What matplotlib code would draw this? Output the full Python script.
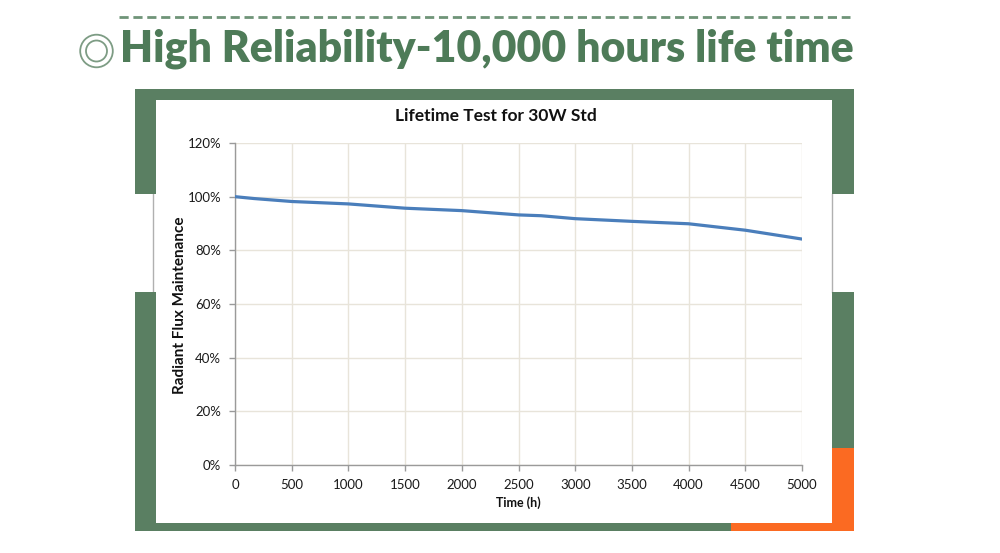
import matplotlib
matplotlib.use("Agg")
import matplotlib.pyplot as plt
from matplotlib.patches import Rectangle, Circle
from matplotlib.ticker import FuncFormatter

# ---- data ----
hours = [0, 168, 500, 1000, 1500, 2000, 2500, 2700, 3000, 3500, 4000, 4500, 5000]
flux = [100.0, 99.3, 98.2, 97.3, 95.7, 94.8, 93.2, 92.9, 91.8, 90.8, 89.9, 87.5, 84.2]
x_ticks = [0, 500, 1000, 1500, 2000, 2500, 3000, 3500, 4000, 4500, 5000]
y_ticks = [0, 20, 40, 60, 80, 100, 120]
header = "High Reliability-10,000 hours life time"
chart_title = "Lifetime Test for 30W Std"
x_label = "Time (h)"
y_label = "Radiant Flux Maintenance"

W, H = 1000, 553
fig = plt.figure(figsize=(W / 100, H / 100), dpi=100)
fig.patch.set_facecolor("white")

# overlay in pixel coordinates
ov = fig.add_axes([0, 0, 1, 1])
ov.set_xlim(0, W)
ov.set_ylim(H, 0)
ov.axis("off")

green = "#5a7f62"
orange = "#fb6a22"
gray_line = "#b0b0b0"

def rect(x0, y0, x1, y1, c, z=1):
    ov.add_patch(Rectangle((x0, y0), x1 - x0, y1 - y0, facecolor=c, edgecolor="none", zorder=z))

# frame
rect(135, 89, 853.5, 99.5, green)          # top
rect(135, 89, 155.7, 194, green)           # left upper
rect(135, 292, 155.7, 531, green)          # left lower
rect(831.7, 89, 853.5, 194, green)         # right upper
rect(831.7, 292, 853.5, 448, green)        # right lower green
rect(831.7, 448, 853.5, 531, orange)       # right lower orange
rect(135, 522.7, 731, 531, green)          # bottom green
rect(731, 522.7, 853.5, 531, orange)       # bottom orange
ov.plot([152.5, 152.5], [194, 292], color=gray_line, lw=1.0, zorder=0)
ov.plot([832.2, 832.2], [194, 292], color=gray_line, lw=1.0, zorder=0)

# header
ov.plot([119, 850], [17, 17], color="#6f9478", lw=2.0, linestyle=(0, (3.3, 1.7)), solid_capstyle="butt")
ov.add_patch(Circle((96.5, 51), 16.3, facecolor="none", edgecolor="#7d9c84", lw=1.3))
ov.add_patch(Circle((96.5, 51), 10.5, facecolor="none", edgecolor="#7d9c84", lw=1.3))
ht = ov.text(120, 49, header, color="#4e7b58", fontsize=25, fontweight="heavy",
             family=["Lato", "DejaVu Sans"], ha="left", va="center")
fig.canvas.draw()
bb = ht.get_window_extent()
ht.set_fontsize(25 * 735 / bb.width)

# chart axes
ax = fig.add_axes([235 / W, (H - 465) / H, 567 / W, 322 / H])
ax.plot(hours, flux, color="#4a7ebb", lw=2.3, solid_capstyle="round", zorder=3)
ax.set_xlim(0, 5000)
ax.set_ylim(0, 120)
ax.set_xticks(x_ticks)
ax.set_yticks(y_ticks)
ax.yaxis.set_major_formatter(FuncFormatter(lambda v, p: f"{int(v)}%"))
ax.grid(True, color="#e8e4da", lw=1.0)
ax.set_axisbelow(True)
for s in ["top", "right"]:
    ax.spines[s].set_visible(False)
for s in ["left", "bottom"]:
    ax.spines[s].set_color("#9a9a9a")
    ax.spines[s].set_linewidth(1.0)
ax.tick_params(direction="out", length=4, width=1, color="#9a9a9a",
               labelsize=9.5, labelcolor="#1a1a1a", pad=6)
for lab in ax.get_xticklabels() + ax.get_yticklabels():
    lab.set_family(["Lato", "DejaVu Sans"])

ov.text(496, 116, chart_title, fontsize=12.5, fontweight="bold", color="#111111",
        family=["Lato", "DejaVu Sans"], ha="center", va="center")
ov.text(518, 503, x_label, fontsize=9, fontweight="bold", color="#111111",
        family=["Lato", "DejaVu Sans"], ha="center", va="center")
ov.text(180, 305, y_label, fontsize=11, fontweight="bold", color="#111111",
        family=["Lato", "DejaVu Sans"], ha="center", va="center", rotation=90)

fig.savefig("out.png", dpi=100, facecolor="white")
